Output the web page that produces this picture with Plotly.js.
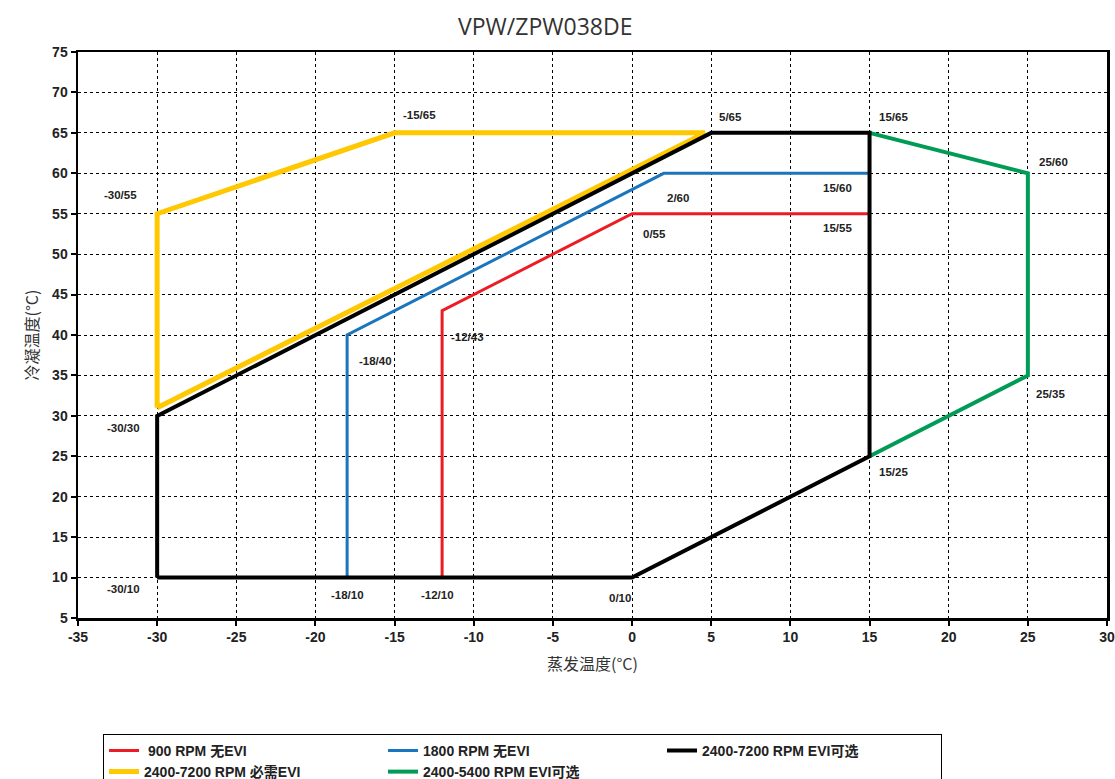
<!DOCTYPE html>
<html>
<head>
<meta charset="utf-8">
<script src="https://cdn.plot.ly/plotly-3.0.1.min.js"></script>
<style>body{margin:0;padding:0;background:#fff;}#chart{width:1115px;height:779px;}</style>
</head>
<body>
<div id="chart"></div>
<script>
// Envelope series (evaporating temp x, condensing temp y)
const seriesNames = ["\u00a0900 RPM 无EVI", "1800 RPM 无EVI", "2400-7200 RPM EVI可选", "2400-7200 RPM 必需EVI", "2400-5400 RPM EVI可选"];
const redX = [-12, -12, 0, 15];
const redY = [10, 43, 55, 55];
const blueX = [-18, -18, 2, 15];
const blueY = [10, 40, 60, 60];
const blackX = [-30, 0, 15, 15, 5, -30, -30];
const blackY = [10, 10, 25, 65, 65, 30, 10];
const yellowX = [-30, -30, -15, 4.6, -30];
const yellowY = [31, 55, 65, 65, 31];
const greenX = [15, 25, 25, 15];
const greenY = [65, 60, 35, 25];

// Tick labels
const xTickVals = [-35, -30, -25, -20, -15, -10, -5, 0, 5, 10, 15, 20, 25, 30];
const xTickText = ["-35", "-30", "-25", "-20", "-15", "-10", "-5", "0", "5", "10", "15", "20", "25", "30"];
const yTickVals = [5, 10, 15, 20, 25, 30, 35, 40, 45, 50, 55, 60, 65, 70, 75];
const yTickText = ["5", "10", "15", "20", "25", "30", "35", "40", "45", "50", "55", "60", "65", "70", "75"];

// Point labels
const labelText = ["-15/65", "5/65", "15/65", "-30/55", "25/60", "15/60", "2/60", "0/55", "15/55", "-12/43", "-18/40", "25/35", "-30/30", "15/25", "-30/10", "-18/10", "-12/10", "0/10"];
const labelX = [-13.4, 6.2, 16.5, -32.3, 26.6, 13.0, 2.9, 1.4, 13.0, -10.4, -16.2, 26.4, -32.1, 16.5, -32.1, -18.0, -12.3, -0.75];
const labelY = [67.2, 67.0, 67.0, 57.3, 61.4, 58.2, 57.0, 52.5, 53.2, 39.8, 36.8, 32.7, 28.5, 23.1, 8.6, 7.85, 7.85, 7.5];

const traces = [
  {x: yellowX, y: yellowY, name: seriesNames[3], legendrank: 4, line: {color: '#FFC800', width: 5}},
  {x: greenX, y: greenY, name: seriesNames[4], legendrank: 5, line: {color: '#009B55', width: 4}},
  {x: blueX, y: blueY, name: seriesNames[1], legendrank: 2, line: {color: '#1B75BC', width: 3}},
  {x: redX, y: redY, name: seriesNames[0], legendrank: 1, line: {color: '#ED1C24', width: 3}},
  {x: blackX, y: blackY, name: seriesNames[2], legendrank: 3, line: {color: '#000000', width: 4}}
].map(t => Object.assign({type: 'scatter', mode: 'lines', hoverinfo: 'skip'}, t));

const annFont = {family: 'Liberation Sans, Arial, sans-serif', size: 11.5, weight: 'bold', color: '#222'};
const annotations = labelText.map((t, i) => ({
  x: labelX[i], y: labelY[i], xref: 'x', yref: 'y', text: t, showarrow: false, font: annFont
}));

const tickFont = {family: 'Liberation Sans, Arial, sans-serif', size: 14, weight: 'bold', color: '#222'};
const titleFont = {family: 'Noto Sans CJK SC, Noto Sans, sans-serif', size: 16, color: '#333'};

const layout = {
  width: 1115, height: 779,
  margin: {l: 78, r: 8, t: 52, b: 161},
  paper_bgcolor: '#fff', plot_bgcolor: '#fff',
  title: {text: 'VPW/ZPW038DE', x: 0.489, xanchor: 'center', y: 0.965, yanchor: 'middle',
          font: {family: 'Open Sans, Noto Sans, sans-serif', size: 23, color: '#333'}},
  xaxis: {
    range: [-35, 30], tickmode: 'array', tickvals: xTickVals, ticktext: xTickText,
    showgrid: true, gridcolor: '#000', gridwidth: 1, griddash: 'dot',
    zeroline: false, showline: true, linecolor: '#000', linewidth: 2.5, mirror: true,
    ticks: 'outside', ticklen: 5, tickwidth: 2, tickcolor: '#000', tickfont: tickFont,
    title: {text: '蒸发温度(°C)', font: titleFont, standoff: 15}
  },
  yaxis: {
    range: [5, 75], tickmode: 'array', tickvals: yTickVals, ticktext: yTickText,
    showgrid: true, gridcolor: '#000', gridwidth: 1, griddash: 'dot',
    zeroline: false, showline: true, linecolor: '#000', linewidth: 2.5, mirror: true,
    ticks: 'outside', ticklen: 5, tickwidth: 2, tickcolor: '#000', tickfont: tickFont,
    title: {text: '冷凝温度(°C)', font: titleFont, standoff: 10}
  },
  showlegend: true,
  legend: {
    orientation: 'h', xref: 'container', yref: 'container', x: 0.0924, y: 0.058,
    xanchor: 'left', yanchor: 'top', entrywidth: 234, entrywidthmode: 'pixels',
    bordercolor: '#000', borderwidth: 1, bgcolor: '#fff',
    font: {family: 'Liberation Sans, Arial, Noto Sans CJK SC, sans-serif', size: 14, weight: 'bold', color: '#222'},
    traceorder: 'normal'
  },
  annotations: annotations
};

Plotly.newPlot('chart', traces, layout, {staticPlot: true, displayModeBar: false});
</script>
</body>
</html>
